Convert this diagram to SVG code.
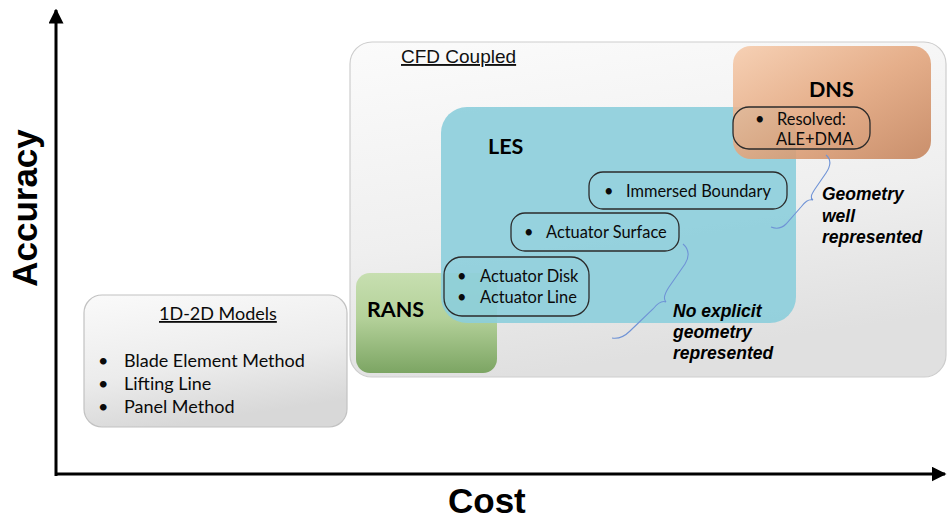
<svg xmlns="http://www.w3.org/2000/svg" width="948" height="520" viewBox="0 0 948 520">
  <defs>
    <linearGradient id="gCfd" x1="0" y1="0" x2="0.25" y2="1">
      <stop offset="0" stop-color="#fbfbfb"/>
      <stop offset="0.6" stop-color="#efefef"/>
      <stop offset="1" stop-color="#e0e0e0"/>
    </linearGradient>
    <linearGradient id="gModels" x1="0" y1="0" x2="0.3" y2="1">
      <stop offset="0" stop-color="#fafafa"/>
      <stop offset="0.6" stop-color="#ececec"/>
      <stop offset="1" stop-color="#d8d8d8"/>
    </linearGradient>
    <linearGradient id="gDns" x1="0" y1="0" x2="1" y2="1">
      <stop offset="0" stop-color="#f6cbab"/>
      <stop offset="0.5" stop-color="#e3a57c"/>
      <stop offset="1" stop-color="#c4825a"/>
    </linearGradient>
    <linearGradient id="gRans" x1="0" y1="0" x2="0" y2="1">
      <stop offset="0" stop-color="#c7dfb0"/>
      <stop offset="0.45" stop-color="#b4d19a"/>
      <stop offset="1" stop-color="#7ca563"/>
    </linearGradient>
    <marker id="arr" viewBox="0 0 10 10" refX="9" refY="5" markerWidth="5" markerHeight="5" markerUnits="strokeWidth" orient="auto">
      <path d="M0,0 L10,5 L0,10 Z" fill="#000"/>
    </marker>
    <style>
      .pill { fill: none; stroke: #2b2b2b; stroke-width: 1.3; }
      .txt { font-family: Lato, "Open Sans", sans-serif; fill: #0a0a0a; }
      .sm { font-size: 16.4px; }
      .md { font-size: 18px; }
      .hd { font-family: Lato, "Open Sans", sans-serif; font-weight: bold; font-size: 21.5px; fill: #000; }
      .ax { font-family: "Liberation Sans", Arial, sans-serif; font-weight: bold; font-size: 35px; fill: #000; }
      .note { font-family: "Liberation Sans", Arial, sans-serif; font-weight: bold; font-style: italic; font-size: 17.5px; fill: #000; }
      .ul { font-family: "Liberation Sans", Arial, sans-serif; font-size: 19px; fill: #111; text-decoration: underline; }
      .brace { fill: none; stroke: #6f93d6; stroke-width: 1.1; }
    </style>
  </defs>
  <rect width="948" height="520" fill="#ffffff"/>

  <g id="cfd-coupled">
    <rect x="350" y="42" width="596" height="335" rx="22" fill="url(#gCfd)" stroke="#cdcdcd" stroke-width="1.2"/>
    <text class="ul" x="401" y="63">CFD Coupled</text>
  </g>

  <g id="models-1d2d">
    <rect x="84" y="295" width="263" height="132" rx="18" fill="url(#gModels)" stroke="#c2c2c2" stroke-width="1.2"/>
    <text class="txt md" x="159" y="320" text-decoration="underline">1D-2D Models</text>
    <text class="txt md" x="98" y="367">•</text>
    <text class="txt md" x="124" y="367">Blade Element Method</text>
    <text class="txt md" x="98" y="390">•</text>
    <text class="txt md" x="124" y="390">Lifting Line</text>
    <text class="txt md" x="98" y="413">•</text>
    <text class="txt md" x="124" y="413">Panel Method</text>
  </g>

  <g id="rans">
    <rect x="356" y="273" width="141" height="100" rx="14" fill="url(#gRans)"/>
    <text class="hd" x="367" y="317">RANS</text>
  </g>

  <g id="les">
    <rect x="441" y="107" width="355" height="216" rx="26" fill="#8ccedc" fill-opacity="0.9"/>
    <text class="hd" x="488" y="154">LES</text>
  </g>

  <g id="dns">
    <rect x="733" y="46" width="198" height="113" rx="18" fill="url(#gDns)" fill-opacity="0.88"/>
    <text class="hd" x="809" y="97">DNS</text>
  </g>

  <g id="resolved">
    <rect class="pill" x="733" y="107" width="137" height="42" rx="16"/>
    <text class="txt sm" x="755" y="125">•</text>
    <text class="txt sm" x="777" y="125">Resolved:</text>
    <text class="txt sm" x="776" y="145">ALE+DMA</text>
  </g>

  <g id="immersed-boundary">
    <rect class="pill" x="589" y="172" width="198" height="37" rx="14"/>
    <text class="txt sm" x="604" y="197">•</text>
    <text class="txt sm" x="626" y="197">Immersed Boundary</text>
  </g>

  <g id="actuator-surface">
    <rect class="pill" x="511" y="213" width="168" height="38" rx="14"/>
    <text class="txt sm" x="524" y="238">•</text>
    <text class="txt sm" x="546" y="238">Actuator Surface</text>
  </g>

  <g id="actuator-disk-line">
    <rect class="pill" x="444" y="257" width="145" height="59" rx="18"/>
    <text class="txt sm" x="457" y="282">•</text>
    <text class="txt sm" x="480" y="282">Actuator Disk</text>
    <text class="txt sm" x="457" y="303">•</text>
    <text class="txt sm" x="480" y="303">Actuator Line</text>
  </g>

  <g id="note-geometry-well">
    <text class="note" x="822" y="200">Geometry</text>
    <text class="note" x="822" y="222">well</text>
    <text class="note" x="822" y="243">represented</text>
  </g>

  <g id="note-no-explicit">
    <text class="note" x="673" y="317">No explicit</text>
    <text class="note" x="673" y="338">geometry</text>
    <text class="note" x="673" y="359">represented</text>
  </g>

  <g id="connectors">
    <path class="brace" d="M826,155 C832,160 830,167 826,173 L815,189 C811,195 810,198 813,200 C808,199 805,202 801,207 L786,224 C781,229 776,229 771,227"/>
    <path class="brace" d="M683,244 C690,250 689,258 685,264 L669,287 C665,293 663,299 666,302 C661,300 657,304 653,309 L630,331 C624,337 618,339 612,338"/>
    <line x1="56" y1="476" x2="56" y2="10" stroke="#000" stroke-width="3" marker-end="url(#arr)"/>
    <line x1="55" y1="474" x2="945" y2="474" stroke="#000" stroke-width="3" marker-end="url(#arr)"/>
  </g>

  <g id="axis-labels">
    <text class="ax" x="0" y="0" text-anchor="middle" transform="translate(37,208) rotate(-90)">Accuracy</text>
    <text class="ax" x="448" y="513">Cost</text>
  </g>
</svg>
